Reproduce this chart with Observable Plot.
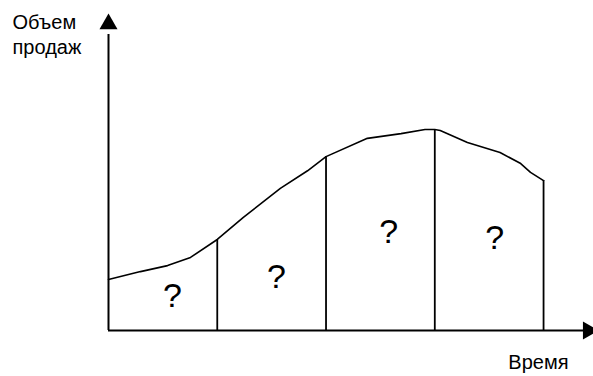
<!DOCTYPE html>
<html>
<head>
<meta charset="utf-8">
<script src="https://cdn.jsdelivr.net/npm/d3@7"></script>
<script src="https://cdn.jsdelivr.net/npm/@observablehq/plot@0.6"></script>
<style>
  html, body { margin: 0; padding: 0; background: #fff; }
  #chart svg { display: block; }
</style>
</head>
<body>
<div id="chart"></div>
<script>
// Curve of sales over time (time in stage units 0..4, sales in relative units)
const time  = [0, 0.294, 0.543, 0.754, 1.0, 1.24, 1.58, 1.83, 2.0, 2.38, 2.69, 2.91, 3.0, 3.05, 3.30, 3.60, 3.79, 3.88, 4.0];
const sales = [16.2, 18.7, 20.6, 23.2, 28.9, 35.9, 45.1, 50.7, 55.2, 61.0, 62.5, 63.8, 63.8, 63.5, 59.7, 56.5, 53.0, 50.2, 47.6];

// Stage boundaries
const boundaries = [1, 2, 3, 4];

// Question-mark labels inside each stage
const qLabels = ["?", "?", "?", "?"];
const qX = [0.588, 1.545, 2.576, 3.55];
const qY = [10.8, 17.1, 31.1, 29.4];

// Axis labels
const yLabel = "Объем\nпродаж";
const xLabel = "Время";

const curve = time.map((t, i) => ({t, s: sales[i]}));
const salesAt = t => sales[time.indexOf(t)];
const rules = boundaries.map(b => ({t: b, s: salesAt(b)}));
const qs = qLabels.map((q, i) => ({q, x: qX[i], y: qY[i]}));

const xMax = 4.45, yMax = 100;

const chart = Plot.plot({
  width: 593,
  height: 376,
  marginLeft: 108,
  marginRight: 1,
  marginTop: 15,
  marginBottom: 46,
  x: {domain: [0, xMax], axis: null},
  y: {domain: [0, yMax], axis: null},
  style: {fontFamily: "'Liberation Sans', Arial, sans-serif", background: "#fff", color: "#000"},
  marks: [
    // axes
    Plot.ruleY([0], {x1: 0, x2: 4.38, stroke: "#000", strokeWidth: 2}),
    Plot.ruleX([0], {y1: 0, y2: 94, stroke: "#000", strokeWidth: 2}),
    // arrowheads
    Plot.dot([{x: 0, y: 97.3}], {x: "x", y: "y", symbol: "triangle", r: 6.7, fill: "#000", stroke: null}),
    Plot.dot([{x: 4.41, y: 0}], {x: "x", y: "y", symbol: "triangle", r: 6.7, fill: "#000", stroke: null, rotate: 90}),
    // stage boundaries
    Plot.ruleX(rules, {x: "t", y1: 0, y2: "s", stroke: "#000", strokeWidth: 1.8}),
    // sales curve
    Plot.line(curve, {x: "t", y: "s", stroke: "#000", strokeWidth: 1.6, curve: "linear"}),
    // question marks
    Plot.text(qs, {x: "x", y: "y", text: "q", fontSize: 34, fill: "#000"}),
    // axis labels
    Plot.text([yLabel], {frameAnchor: "top-left", textAnchor: "start", lineAnchor: "top", lineHeight: 1.25, dx: -96, dy: -4, fontSize: 20, fill: "#000"}),
    Plot.text([xLabel], {frameAnchor: "bottom-right", textAnchor: "end", lineAnchor: "top", dx: -24, dy: 24, fontSize: 20, fill: "#000"})
  ]
});
document.getElementById("chart").appendChild(chart);
</script>
</body>
</html>
